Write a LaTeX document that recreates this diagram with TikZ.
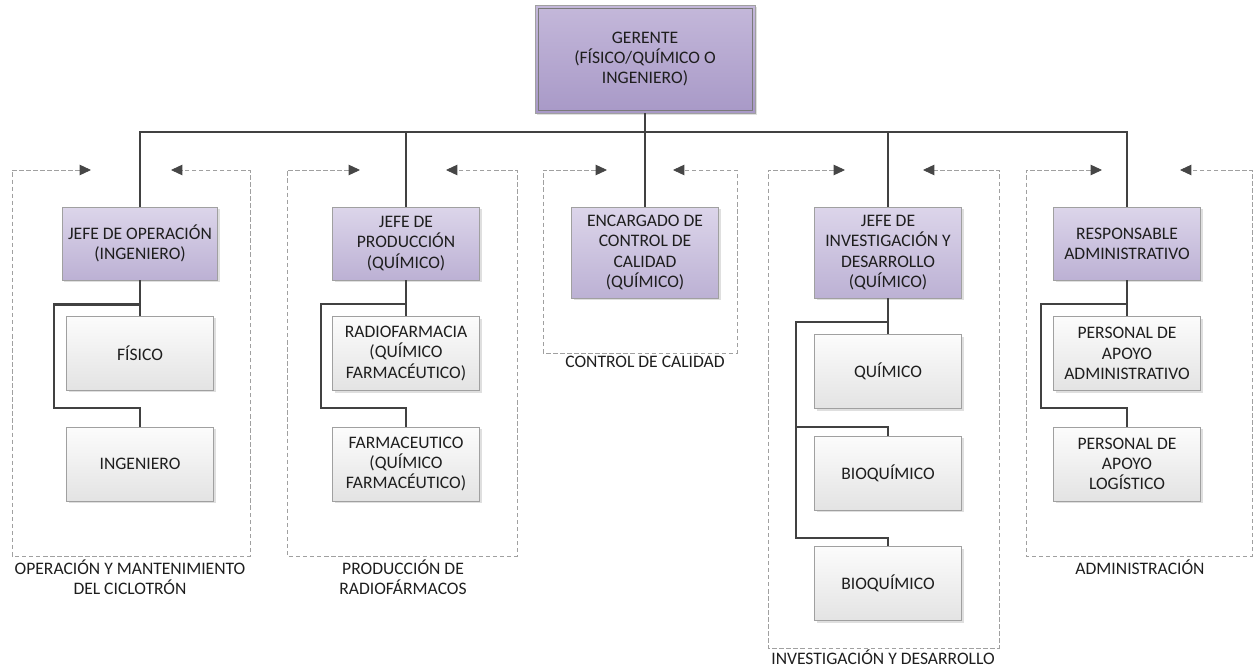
\documentclass[tikz,border=0pt]{standalone}
\usepackage{fontspec}
\setmainfont{Carlito}
\usetikzlibrary{arrows.meta,shadows}

\definecolor{bossTop}{RGB}{196,184,218}
\definecolor{bossBot}{RGB}{168,153,199}
\definecolor{headTop}{RGB}{220,213,234}
\definecolor{headBot}{RGB}{188,177,212}
\definecolor{staffTop}{RGB}{252,252,252}
\definecolor{staffBot}{RGB}{227,227,227}
\definecolor{boxLine}{RGB}{160,160,160}
\definecolor{linkCol}{RGB}{65,65,65}
\definecolor{frameCol}{RGB}{160,160,160}
\definecolor{tipCol}{RGB}{70,70,70}
\definecolor{txt}{RGB}{30,30,30}

\tikzset{
  box/.style={rectangle, align=center, text=txt, draw=boxLine, line width=0.5pt,
    font=\fontsize{10}{11.5}\selectfont,
    drop shadow={opacity=0.25, shadow xshift=1.2pt, shadow yshift=-1.2pt}},
  boss/.style={box, top color=bossTop, bottom color=bossBot,
    minimum width=4.4cm, minimum height=2.16cm},
  head/.style={box, top color=headTop, bottom color=headBot,
    minimum width=2.94cm, minimum height=1.46cm},
  tall/.style={minimum height=1.82cm},
  staff/.style={box, top color=staffTop, bottom color=staffBot,
    minimum width=2.94cm, minimum height=1.48cm},
  link/.style={draw=linkCol, line width=1.5pt},
  frame/.style={draw=frameCol, line width=0.5pt, dash pattern=on 2.5pt off 1.5pt,
    {Triangle[length=6.5pt,width=6pt,color=tipCol]}-{Triangle[length=6.5pt,width=6pt,color=tipCol]}},
  grouplabel/.style={align=center, anchor=north, inner sep=0pt, text=txt,
    font=\fontsize{10}{11.5}\selectfont}
}

\begin{document}
\begin{tikzpicture}[x=0.02cm,y=-0.02cm]
\useasboundingbox (0,0) rectangle (1254,669);

% areas
\draw[frame] (91,170) -| (12,556) -| (250,170) -- (171,170);
\draw[frame] (360,170) -| (287,556) -| (517,170) -- (446,170);
\draw[frame] (607,170) -| (543,353) -| (737,170) -- (673,170);
\draw[frame] (845,170) -| (768,648) -| (999,170) -- (923,170);
\draw[frame] (1102,170) -| (1026,556) -| (1252,170) -- (1180,170);

\node[grouplabel] (lblop) at (130,559) {OPERACIÓN Y MANTENIMIENTO\\DEL CICLOTRÓN};
\node[grouplabel] (lblprod) at (403,559) {PRODUCCIÓN DE\\RADIOFÁRMACOS};
\node[grouplabel] (lblcc) at (645,356) {CONTROL DE CALIDAD};
\node[grouplabel] (lblinv) at (883,649) {INVESTIGACIÓN Y DESARROLLO};
\node[grouplabel] (lbladm) at (1140,559) {ADMINISTRACIÓN};

% boxes
\node[boss] (gerente) at (645,59) {GERENTE\\(FÍSICO/QUÍMICO O\\INGENIERO)};
\draw[linkCol!70] ([shift={(2pt,2pt)}]gerente.south west) rectangle ([shift={(-2pt,-2pt)}]gerente.north east);

\node[head] (jop) at (140,243.5) {JEFE DE OPERACIÓN\\(INGENIERO)};
\node[head] (jprod) at (406,243.5) {JEFE DE\\PRODUCCIÓN\\(QUÍMICO)};
\node[head,tall] (encc) at (645,252.5) {ENCARGADO DE\\CONTROL DE\\CALIDAD\\(QUÍMICO)};
\node[head,tall] (jinv) at (888,252.5) {JEFE DE\\INVESTIGACIÓN Y\\DESARROLLO\\(QUÍMICO)};
\node[head] (resp) at (1127,243.5) {RESPONSABLE\\ADMINISTRATIVO};

\node[staff] (fisico) at (140,353) {FÍSICO};
\node[staff] (ingen) at (140,464) {INGENIERO};
\node[staff] (radio) at (406,353.5) {RADIOFARMACIA\\(QUÍMICO\\FARMACÉUTICO)};
\node[staff] (farma) at (406,464) {FARMACEUTICO\\(QUÍMICO\\FARMACÉUTICO)};
\node[staff] (quim) at (888,371.5) {QUÍMICO};
\node[staff] (bioqa) at (888,473) {BIOQUÍMICO};
\node[staff] (bioqb) at (888,583.5) {BIOQUÍMICO};
\node[staff] (persadm) at (1127,353.5) {PERSONAL DE\\APOYO\\ADMINISTRATIVO};
\node[staff] (perslog) at (1127,464) {PERSONAL DE\\APOYO\\LOGÍSTICO};

% lines
\coordinate (bus) at (140,132);
\draw[link] (gerente.south) -- (encc.north);
\draw[link] (jop.north) -- (jop |- bus) -- (resp |- bus) -- (resp.north);
\draw[link] (jprod.north) -- (jprod |- bus);
\draw[link] (jinv.north) -- (jinv |- bus);

\draw[link] (jop.south) -- (fisico.north);
\draw[link] (fisico.north) ++(0,-11) -| (54,408) -| (ingen.north);
\draw[link] (jprod.south) -- (radio.north);
\draw[link] (radio.north) ++(0,-12) -| (321,408) -| (farma.north);
\draw[link] (jinv.south) -- (quim.north);
\draw[link] (quim.north) ++(0,-12) -| (796,427) -| (bioqa.north);
\draw[link] (796,427) -- (796,538) -| (bioqb.north);
\draw[link] (resp.south) -- (persadm.north);
\draw[link] (persadm.north) ++(0,-12) -| (1041,408) -| (perslog.north);
\end{tikzpicture}
\end{document}
